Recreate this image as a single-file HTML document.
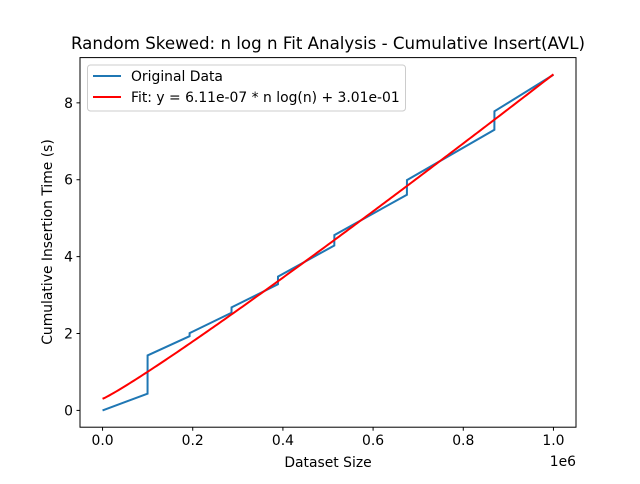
<!DOCTYPE html>
<html><head><meta charset="utf-8"><style>
body{margin:0;background:#fff;font-family:"DejaVu Sans","Liberation Sans",sans-serif}
svg text{font-family:"DejaVu Sans","Liberation Sans",sans-serif}
</style></head><body>
<svg id="chart" width="640" height="480" viewBox="0 0 640 480">
<rect width="640" height="480" fill="#fff"/>
<text x="328" y="49" text-anchor="middle" font-size="16.67">Random Skewed: n log n Fit Analysis - Cumulative Insert(AVL)</text>
<g id="axes"></g>
<g id="series"></g>
<rect x="80" y="57.6" width="496" height="369.6" fill="none" stroke="#000" stroke-width="1"/>
<text x="328" y="467" text-anchor="middle" font-size="13.9">Dataset Size</text>
<text x="0" y="0" transform="translate(52,242) rotate(-90)" text-anchor="middle" font-size="13.9">Cumulative Insertion Time (s)</text>
<text x="576" y="466" text-anchor="end" font-size="13.9">1e6</text>
<g>
<rect x="87.5" y="65" width="318" height="46" rx="3" fill="#fff" fill-opacity="0.8" stroke="#ccc"/>
<line x1="93" y1="76" x2="121" y2="76" stroke="#1f77b4" stroke-width="2"/>
<text x="131" y="81" font-size="13.9">Original Data</text>
<line x1="93" y1="97" x2="121" y2="97" stroke="#ff0000" stroke-width="2"/>
<text x="131" y="102" font-size="13.9">Fit: y = 6.11e-07 * n log(n) + 3.01e-01</text>
</g>
</svg>
<script>
const dataX = [0, 0.0998, 0.0999, 0.193, 0.1931, 0.286, 0.2861, 0.389, 0.3891, 0.514, 0.5141, 0.675, 0.6751, 0.869, 0.8691, 1.0];
const dataY = [0, 0.435, 1.43, 1.93, 2.01, 2.54, 2.68, 3.28, 3.48, 4.29, 4.56, 5.61, 5.99, 7.30, 7.78, 8.73];
const fitA = 6.11e-7;
const fitB = 0.301;
const xTicks = [0, 0.2, 0.4, 0.6, 0.8, 1.0];
const xTickLabels = ["0.0", "0.2", "0.4", "0.6", "0.8", "1.0"];
const yTicks = [0, 2, 4, 6, 8];
const yTickLabels = ["0", "2", "4", "6", "8"];

const L=80,R=576,T=57.6,B=427.2;
const xmin=-0.05,xmax=1.05,ymin=-0.437,ymax=9.177;
const sx=v=>L+(v-xmin)/(xmax-xmin)*(R-L);
const sy=v=>B-(v-ymin)/(ymax-ymin)*(B-T);
const NS="http://www.w3.org/2000/svg";
const axes=document.getElementById('axes'), series=document.getElementById('series');
function mk(tag,attrs,parent){const e=document.createElementNS(NS,tag);for(const k in attrs)e.setAttribute(k,attrs[k]);parent.appendChild(e);return e;}
xTicks.forEach((v,i)=>{
  const x=sx(v);
  const t=mk('line',{x1:x,x2:x,y1:B,y2:B+3.5,stroke:'#000'},axes);
  
  
  const l=mk('text',{x:x,y:B+18,'text-anchor':'middle','font-size':13.9},axes);
  l.textContent=xTickLabels[i];
  
  
});
yTicks.forEach((v,i)=>{
  const y=sy(v);
  const t=mk('line',{x1:L-3.5,x2:L,y1:y,y2:y,stroke:'#000'},axes);
  
  
  const l=mk('text',{x:L-7,y:y+5,'text-anchor':'end','font-size':13.9},axes);
  l.textContent=yTickLabels[i];
  
  
});
const op=mk('polyline',{points:dataX.map((x,i)=>sx(x)+','+sy(dataY[i])).join(' '),fill:'none',stroke:'#1f77b4','stroke-width':2},series);


const fp=[];
for(let i=0;i<=200;i++){const n=Math.max(1,i/200*1e6);const y=fitA*n*Math.log(n)+fitB;fp.push(sx(n/1e6)+','+sy(y));}
const fl=mk('polyline',{points:fp.join(' '),fill:'none',stroke:'#ff0000','stroke-width':2},series);


</script>
</body></html>
